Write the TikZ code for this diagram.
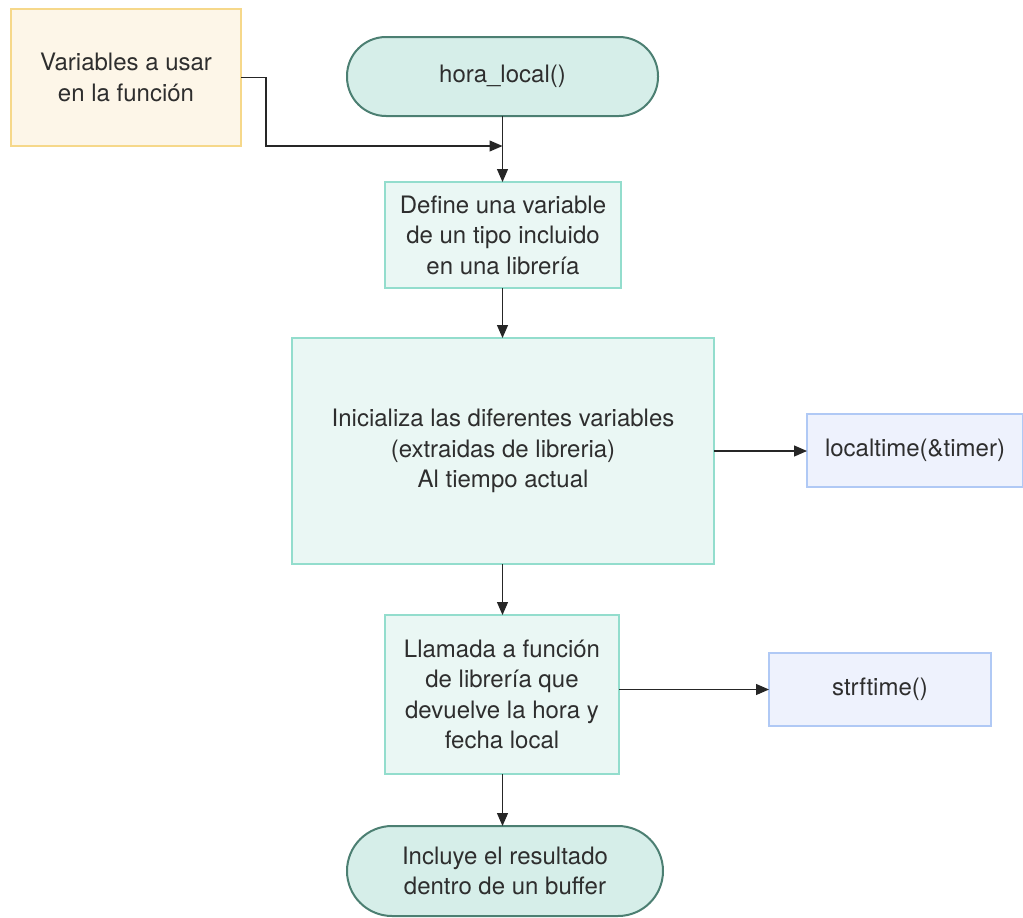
\documentclass[tikz,border=0pt]{standalone}
\usepackage{fontspec}
\setmainfont{TeX Gyre Heros}
\usetikzlibrary{arrows.meta,calc}
\definecolor{txt}{HTML}{2E2E2E}
\definecolor{creamfill}{HTML}{FDF6E8}
\definecolor{creamline}{HTML}{F6D88A}
\definecolor{termfill}{HTML}{D6EEE9}
\definecolor{termline}{HTML}{4C7F72}
\definecolor{procfill}{HTML}{EAF7F4}
\definecolor{procline}{HTML}{93DDCD}
\definecolor{callfill}{HTML}{EEF2FD}
\definecolor{callline}{HTML}{B0C9F5}
\tikzset{
  x=1pt, y=-1pt,
  every node/.style={font=\fontsize{24}{30.5}\selectfont, text=txt, align=center,
    inner sep=0pt, outer sep=0pt},
  box/.style 2 args={minimum width=#1, minimum height=#2},
  notebox/.style={draw=creamline, fill=creamfill, line width=1.2pt},
  terminal/.style={draw=termline, fill=termfill, line width=2pt, rounded corners=39pt},
  procbox/.style={draw=procline, fill=procfill, line width=1.2pt},
  callbox/.style={draw=callline, fill=callfill, line width=1.2pt},
  flow/.style={draw=black!85, line width=1.2pt, -{Triangle[length=13pt,width=11pt]}},
}
\begin{document}
\begin{tikzpicture}
\useasboundingbox (0,0) rectangle (1023,918);

% nodes
\node[notebox, box={230pt}{137pt}] (vars) at (126,77.5) {Variables a usar\\en la función};
\node[terminal, box={311pt}{79pt}] (start) at (502.5,76.5) {hora\_local()};
\node[procbox, box={236pt}{106pt}] (define) at (503,235) {Define una variable\\de un tipo incluido\\en una librería};
\node[procbox, box={422pt}{226pt}] (init) at (503,451) {Inicializa las diferentes variables\\(extraidas de libreria)\\Al tiempo actual};
\node[callbox, box={216pt}{73pt}] (local) at (915,450.5) {localtime(\&timer)};
\node[procbox, box={234pt}{159pt}] (call) at (502,694.5) {Llamada a función\\de librería que\\devuelve la hora y\\fecha local};
\node[callbox, box={222pt}{73pt}] (strf) at (880,689.5) {strftime()};
\node[terminal, rounded corners=45pt, box={316pt}{90pt}] (end) at (505,871) {Incluye el resultado\\dentro de un buffer};

% junction where the side input meets the main line
\coordinate (join) at ($(start.south)+(0,30)$);

% connectors
\draw[flow] (vars.east) -- ++(25,0) |- (join);
\draw[flow] (start.south) -- (start.south |- define.north);
\draw[flow] (start.south |- define.south) -- (start.south |- init.north);
\draw[flow] (start.south |- init.south) -- (start.south |- call.north);
\draw[flow] (init.east) -- (init.east -| local.west);
\draw[flow] (call.east |- strf.west) -- (strf.west);
\draw[flow] (start.south |- call.south) -- (start.south |- end.north);
\end{tikzpicture}
\end{document}
